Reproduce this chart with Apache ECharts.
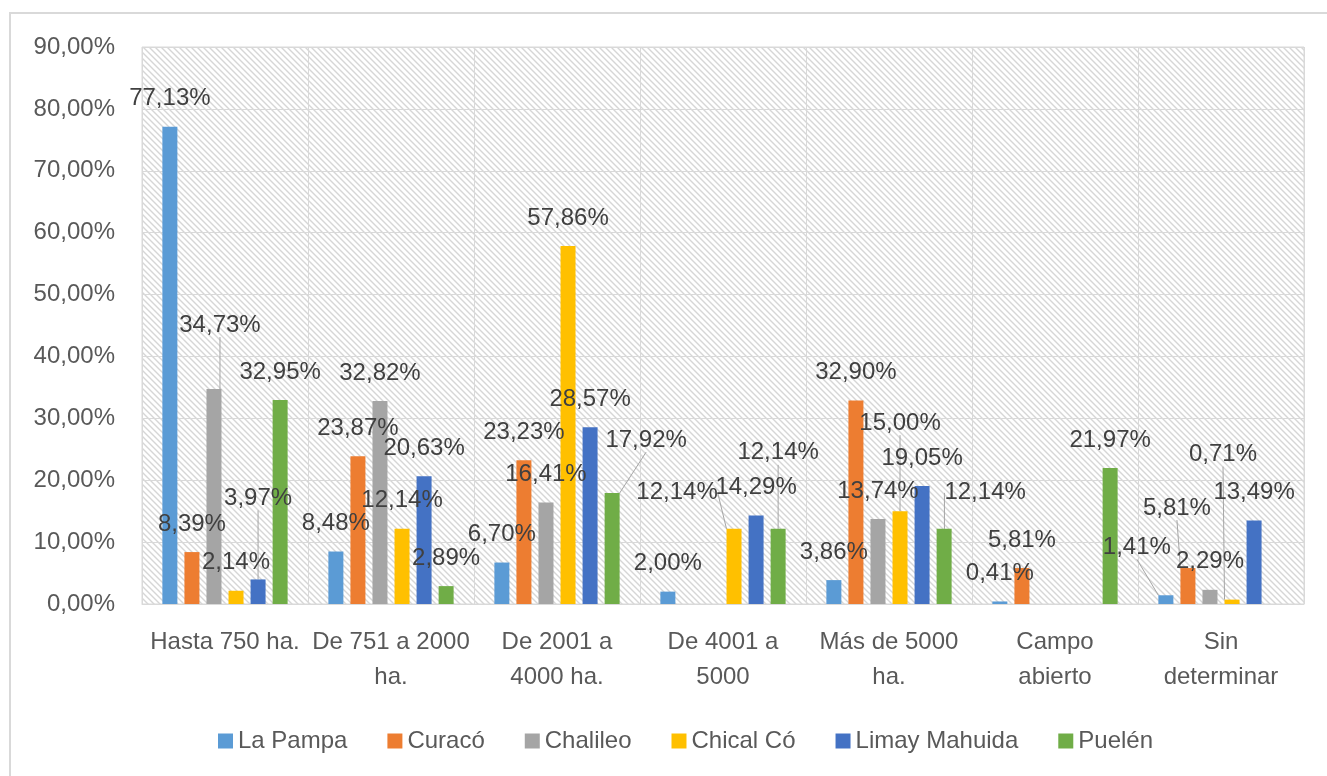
<!DOCTYPE html>
<html>
<head>
<meta charset="utf-8">
<script src="https://cdn.jsdelivr.net/npm/echarts@6/dist/echarts.min.js"></script>
<style>
  html, body { margin: 0; padding: 0; background: #fff; }
  #chart { width: 1327px; height: 776px; }
</style>
</head>
<body>
<div id="chart"></div>
<script>
const categories = [
  "Hasta 750 ha.",
  "De 751 a 2000\nha.",
  "De 2001 a\n4000 ha.",
  "De 4001 a\n5000",
  "Más de 5000\nha.",
  "Campo\nabierto",
  "Sin\ndeterminar",
];
const seriesNames = ["La Pampa", "Curacó", "Chalileo", "Chical Có", "Limay Mahuida", "Puelén"];
const seriesColors = ["#5b9bd5", "#ed7d31", "#a5a5a5", "#ffc000", "#4472c4", "#70ad47"];

const laPampa = [77.13, 8.48, 6.7, 2.0, 3.86, 0.41, 1.41];
const curaco = [8.39, 23.87, 23.23, null, 32.9, 5.81, 5.81];
const chalileo = [34.73, 32.82, 16.41, null, 13.74, null, 2.29];
const chicalCo = [2.14, 12.14, 57.86, 12.14, 15.0, null, 0.71];
const limayMahuida = [3.97, 20.63, 28.57, 14.29, 19.05, null, 13.49];
const puelen = [32.95, 2.89, 17.92, 12.14, 12.14, 21.97, null];

const yTicks = [0, 10, 20, 30, 40, 50, 60, 70, 80, 90];

// data labels that were dragged away from their bar in the original (series,category -> px shift)
const labelShifts = {
  "2,0": [6, -36],
  "4,0": [0, -53],
  "5,2": [34, -25],
  "3,3": [-57, -8],
  "5,3": [0, -48],
  "3,4": [0, -60],
  "5,4": [41, -8],
  "0,6": [-29, -20],
  "1,6": [-11, -32],
  "3,6": [-9, -117],
};

const allData = [laPampa, curaco, chalileo, chicalCo, limayMahuida, puelen];

function fmt(v) {
  return v.toFixed(2).replace(".", ",") + "%";
}

function hatch() {
  const c = document.createElement("canvas");
  c.width = 6;
  c.height = 6;
  const ctx = c.getContext("2d");
  ctx.fillStyle = "#fff";
  ctx.fillRect(0, 0, 6, 6);
  ctx.strokeStyle = "#d6d6d6";
  ctx.lineWidth = 1.4;
  ctx.beginPath();
  ctx.moveTo(-1, -1);
  ctx.lineTo(7, 7);
  ctx.moveTo(-1, 5);
  ctx.lineTo(1, 7);
  ctx.moveTo(5, -1);
  ctx.lineTo(7, 1);
  ctx.stroke();
  return c;
}

const chart = echarts.init(document.getElementById("chart"));

const series = allData.map((vals, si) => ({
  name: seriesNames[si],
  type: "bar",
  barWidth: 15,
  barGap: "47%",
  itemStyle: { color: seriesColors[si] },
  data: vals.map((v, ci) => ({
    value: v,
    labelLine: { show: !!labelShifts[si + "," + ci] },
  })),
  label: {
    show: true,
    position: "top",
    distance: 16,
    fontFamily: "Liberation Sans",
    fontSize: 24,
    color: "#404040",
    formatter: (p) => (p.value == null ? "" : fmt(p.value)),
  },
  labelLine: {
    show: false,
    lineStyle: { color: "#a6a6a6", width: 1 },
  },
  labelLayout: (params) => {
    const s = labelShifts[params.seriesIndex + "," + params.dataIndex];
    return s ? { dx: s[0], dy: s[1] } : {};
  },
  animation: false,
}));

chart.setOption({
  animation: false,
  textStyle: { fontFamily: "Liberation Sans" },
  graphic: [
    {
      type: "rect",
      z: -10,
      shape: { x: 10, y: 13, width: 1400, height: 800 },
      style: { fill: "none", stroke: "#d9d9d9", lineWidth: 2 },
    },
  ],
  grid: {
    left: 142,
    right: 23,
    top: 47,
    bottom: 172,
    show: true,
    borderColor: "#d9d9d9",
    borderWidth: 1,
    backgroundColor: { image: hatch(), repeat: "repeat" },
  },
  legend: {
    data: seriesNames,
    bottom: 18,
    left: 213,
    icon: "rect",
    itemWidth: 15,
    itemHeight: 15,
    itemGap: 40,
    textStyle: { fontFamily: "Liberation Sans", fontSize: 24, color: "#595959" },
  },
  xAxis: {
    type: "category",
    data: categories,
    axisTick: { show: false },
    axisLine: { lineStyle: { color: "#d9d9d9", width: 1 } },
    splitLine: { show: true, lineStyle: { color: "#d9d9d9", width: 1 } },
    axisLabel: {
      interval: 0,
      margin: 21,
      fontFamily: "Liberation Sans",
      fontSize: 24,
      lineHeight: 35,
      color: "#595959",
    },
  },
  yAxis: {
    type: "value",
    min: yTicks[0],
    max: yTicks[yTicks.length - 1],
    interval: 10,
    axisLine: { show: false },
    axisTick: { show: false },
    splitLine: { lineStyle: { color: "#d9d9d9", width: 1 } },
    axisLabel: {
      margin: 27,
      fontFamily: "Liberation Sans",
      fontSize: 24,
      color: "#595959",
      formatter: (v) => fmt(v),
    },
  },
  series: series,
});
</script>
</body>
</html>
